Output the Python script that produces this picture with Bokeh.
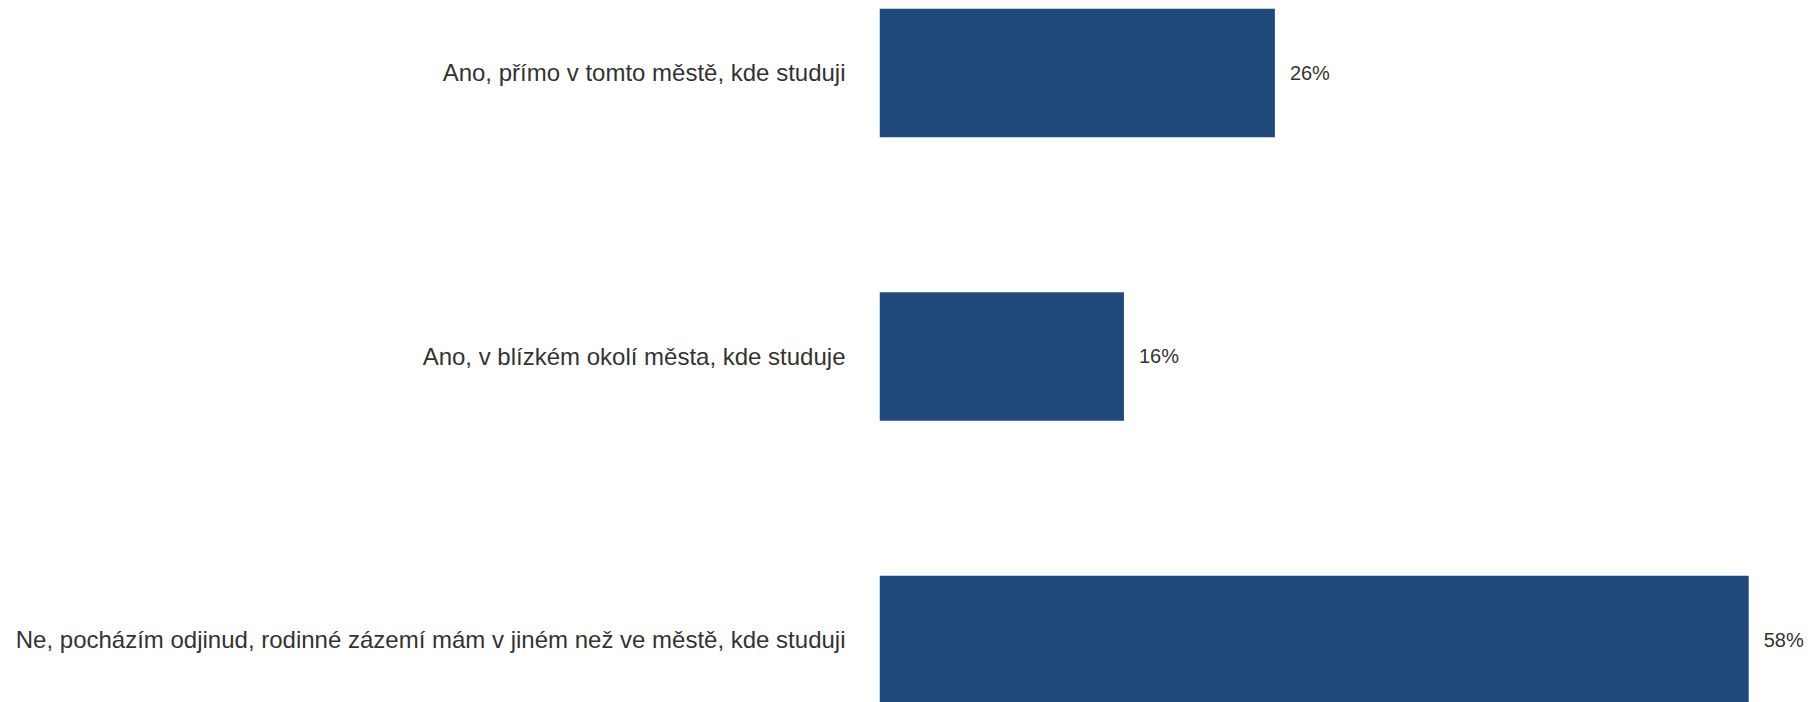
from bokeh.plotting import figure
from bokeh.models import Range1d, FixedTicker, ColumnDataSource
from bokeh.embed import file_html
from bokeh.resources import INLINE
from bokeh.core.properties import value

categories = [
    "Ano, přímo v tomto městě, kde studuji",
    "Ano, v blízkém okolí města, kde studuje",
    "Ne, pocházím odjinud, rodinné zázemí mám v jiném než ve městě, kde studuji",
]
values = [26.2, 16.2, 57.6]
labels = ["26%", "16%", "58%"]

BAR_COLOR = "#204a7c"
TEXT_COLOR = "#333333"
FONT = "Liberation Sans"

pos = list(range(len(categories)))
src = ColumnDataSource(dict(y=pos, v=values, lab=labels))

p = figure(
    width=1811, height=702,
    output_backend="svg", toolbar_location=None,
    x_range=Range1d(0, 61.76),
    y_range=Range1d(2.2205, -0.2557),
    min_border_left=879, min_border_top=0, min_border_bottom=0, min_border_right=0,
    outline_line_color=None,
)

p.hbar(y="y", right="v", left=0, height=0.453, source=src,
       fill_color=BAR_COLOR, line_color=None)

p.text(x="v", y="y", text="lab", source=src, x_offset=15,
       text_baseline="middle", text_align="left",
       text_font=value(FONT), text_font_size="20px", text_color=TEXT_COLOR)

p.xaxis.visible = False
p.xgrid.visible = False
p.ygrid.visible = False

ax = p.yaxis[0]
ax.ticker = FixedTicker(ticks=pos)
ax.major_label_overrides = {i: c for i, c in zip(pos, categories)}
ax.axis_line_color = None
ax.major_tick_line_color = None
ax.minor_tick_line_color = None
ax.major_tick_out = 0
ax.major_tick_in = 0
ax.major_label_standoff = 34
ax.major_label_text_font = FONT
ax.major_label_text_font_size = "24px"
ax.major_label_text_color = TEXT_COLOR

open("out.html", "w").write(file_html(p, INLINE))
